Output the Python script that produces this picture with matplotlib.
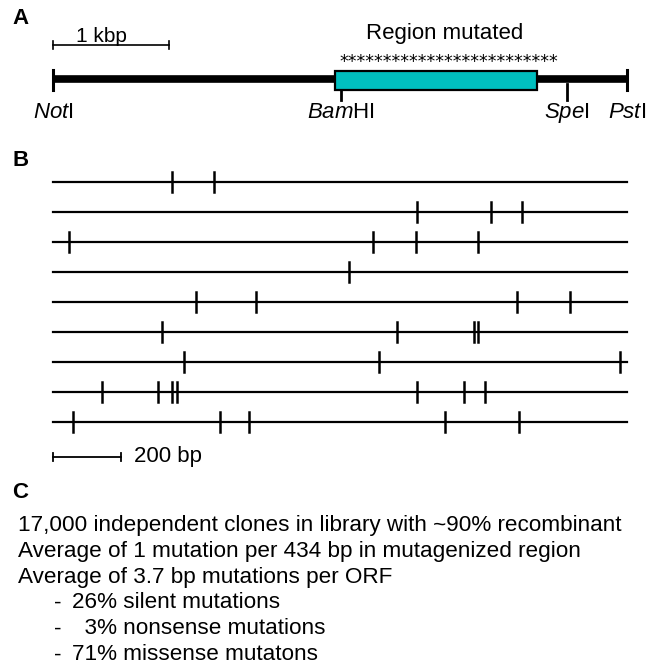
import matplotlib
matplotlib.use('Agg')
import matplotlib.pyplot as plt
from matplotlib.patches import Rectangle

plt.rcParams['font.family'] = ['Liberation Sans', 'DejaVu Sans']
plt.rcParams['mathtext.fontset'] = 'custom'
plt.rcParams['mathtext.rm'] = 'Liberation Sans'
plt.rcParams['mathtext.it'] = 'Liberation Sans:italic'

# panel A: plasmid map, positions in bp from NotI
map_length = 4950
sites = ['NotI', 'BamHI', 'SpeI', 'PstI']
site_labels = [r'$\mathit{Not}$I', r'$\mathit{Bam}$HI', r'$\mathit{Spe}$I', r'$\mathit{Pst}$I']
site_pos = [0, 2483, 4431, 4950]
region_start = 2431
region_end = 4172
n_stars = 25
kbp_bar = 1000

# panel B: mutation positions (bp) in each sequenced clone
orf_length = 1688
clones = [
    [349, 474],
    [1071, 1288, 1380],
    [47, 942, 1068, 1251],
    [871],
    [421, 596, 1365, 1521],
    [321, 1013, 1239, 1251],
    [385, 960, 1666],
    [143, 310, 349, 364, 1071, 1209, 1271],
    [58, 491, 576, 1153, 1369],
]
bp_bar = 200

# panel C text
summary = [
    '17,000 independent clones in library with ~90% recombinant',
    'Average of 1 mutation per 434 bp in mutagenized region',
    'Average of 3.7 bp mutations per ORF',
]
bullets = [
    '26% silent mutations',
    '  3% nonsense mutations',
    '71% missense mutatons',
]

W, H = 660, 665
fig = plt.figure(figsize=(W / 100, H / 100), dpi=100)

# ---- A ----
axA = fig.add_axes([0, 1 - 140 / H, 1, 140 / H])
kpp = map_length / 574.0
axA.set_xlim(-53 * kpp, map_length + 33 * kpp)
axA.set_ylim(140, 0)
axA.axis('off')
axA.plot([0, map_length], [79, 79], color='black', lw=5.5, solid_capstyle='butt', zorder=1)
axA.add_patch(Rectangle((region_start, 70.5), region_end - region_start, 19.5,
                        facecolor='#00bfbf', edgecolor='black', lw=1.6, zorder=2))
for name, lab, p in zip(sites, site_labels, site_pos):
    if name in ('NotI', 'PstI'):
        axA.plot([p, p], [70, 90], color='black', lw=2.2, zorder=3)
    elif name == 'BamHI':
        axA.plot([p, p], [90, 100], color='black', lw=2, zorder=3)
    else:
        axA.plot([p, p], [84, 100], color='black', lw=2, zorder=3)
    axA.text(p, 113, lab, ha='center', va='center', fontsize=16)
# scale bar
axA.plot([0, kbp_bar], [45, 45], color='black', lw=1.2)
for p in (0, kbp_bar):
    axA.plot([p, p], [41, 49], color='black', lw=1.2)
axA.text(kbp_bar * 0.42, 36, '1 kbp', ha='center', va='center', fontsize=15)
star_mid = (region_start + region_end) / 2 + 13.5 * kpp
axA.text(star_mid, 62, '*' * n_stars, ha='center', va='center',
         fontsize=12.5, family='DejaVu Sans')
axA.text(star_mid - 5 * kpp, 33, 'Region mutated', ha='center', va='center', fontsize=16)

# ---- B ----
axB = fig.add_axes([0, 1 - 470 / H, 1, 320 / H])
bpp = bp_bar / 68.0
axB.set_xlim(-53 * bpp, orf_length + 33 * bpp)
axB.set_ylim((470 - 181.7) / 30, (150 - 181.7) / 30)
axB.axis('off')
for i, muts in enumerate(clones):
    axB.plot([0, orf_length], [i, i], color='black', lw=1.6)
    for m in muts:
        axB.plot([m, m], [i - 0.33, i + 0.33], color='black', lw=1.8)
yb = (456.7 - 181.7) / 30
axB.plot([0, bp_bar], [yb, yb], color='black', lw=1.3)
for p in (0, bp_bar):
    axB.plot([p, p], [yb - 0.13, yb + 0.13], color='black', lw=1.3)
axB.text(bp_bar + 13 * bpp, yb, '200 bp', ha='left', va='center', fontsize=16)

# ---- labels / C ----
for lab, y in (('A', 19), ('B', 160), ('C', 493)):
    fig.text(12 / W, 1 - y / H, lab, fontsize=16, fontweight='bold', va='center', ha='left')

y0 = 525
for k, s in enumerate(summary):
    fig.text(18 / W, 1 - (y0 + 26 * k) / H, s, fontsize=16.2, va='center', ha='left')
for k, s in enumerate(bullets):
    yy = 1 - (y0 + 26 * (k + 3)) / H
    fig.text(54 / W, yy, '-', fontsize=16.2, va='center', ha='left')
    fig.text(72 / W, yy, s, fontsize=16.2, va='center', ha='left')

fig.savefig('out.png', dpi=100)
